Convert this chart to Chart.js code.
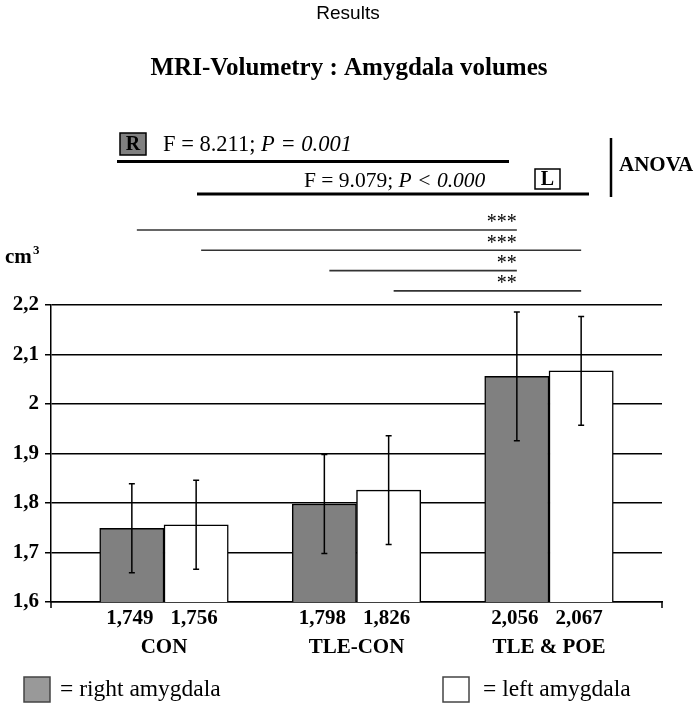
<!DOCTYPE html>
<html>
<head>
<meta charset="utf-8">
<script src="https://cdn.jsdelivr.net/npm/chart.js@4"></script>
<style>
  body { margin: 0; background: #fff; }
</style>
</head>
<body>
<canvas id="chart1" width="696" height="705"></canvas>
<script>
const categories = ['CON', 'TLE-CON', 'TLE & POE'];
const rightVolumes = [1.749, 1.798, 2.056];
const leftVolumes = [1.756, 1.826, 2.067];
const rightSD = [0.09, 0.10, 0.13];
const leftSD = [0.09, 0.11, 0.11];
const yMin = 1.6, yMax = 2.2, yStep = 0.1;
// post-hoc comparisons: [from group, to group, series (0 = right, 1 = left), stars]
const sigPairs = [
  [0, 2, 0, '***'],
  [0, 2, 1, '***'],
  [1, 2, 0, '**'],
  [1, 2, 1, '**']
];

const serif = '"Liberation Serif", "Times New Roman", serif';
const sans = '"Liberation Sans", Arial, sans-serif';

function comma(v, d) {
  return (d === undefined ? String(Math.round(v * 10) / 10) : v.toFixed(d)).replace('.', ',');
}

// draws mixed normal/italic text pieces starting at x
function richText(ctx, parts, x, y, size) {
  parts.forEach(p => {
    ctx.font = (p[1] ? 'italic ' : '') + size + 'px ' + serif;
    ctx.fillText(p[0], x, y);
    x += ctx.measureText(p[0]).width;
  });
}

const extras = {
  id: 'extras',
  afterDatasetsDraw(chart) {
    const ctx = chart.ctx;
    const area = chart.chartArea;
    const xs = chart.scales.x, ys = chart.scales.y;
    ctx.save();
    ctx.fillStyle = '#000';
    ctx.strokeStyle = '#000';

    // error bars + value labels
    [rightSD, leftSD].forEach((sd, di) => {
      const meta = chart.getDatasetMeta(di);
      const vals = di === 0 ? rightVolumes : leftVolumes;
      meta.data.forEach((bar, i) => {
        const top = ys.getPixelForValue(vals[i] + sd[i]);
        const bot = ys.getPixelForValue(vals[i] - sd[i]);
        ctx.lineWidth = 1.5;
        ctx.beginPath();
        ctx.moveTo(bar.x, top); ctx.lineTo(bar.x, bot);
        ctx.moveTo(bar.x - 3, top); ctx.lineTo(bar.x + 3, top);
        ctx.moveTo(bar.x - 3, bot); ctx.lineTo(bar.x + 3, bot);
        ctx.stroke();
        ctx.font = 'bold 21px ' + serif;
        ctx.textAlign = 'center';
        ctx.textBaseline = 'middle';
        ctx.fillText(comma(vals[i], 3), bar.x - 2, area.bottom + 17);
      });
    });

    // category names
    ctx.font = 'bold 21px ' + serif;
    categories.forEach((c, i) => {
      ctx.fillText(c, xs.getPixelForValue(i), area.bottom + 46);
    });

    // little ticks under the x axis ends
    ctx.lineWidth = 1.5;
    ctx.beginPath();
    ctx.moveTo(area.left, area.bottom); ctx.lineTo(area.left, area.bottom + 6);
    ctx.moveTo(area.right, area.bottom); ctx.lineTo(area.right, area.bottom + 6);
    ctx.stroke();

    // significance lines
    const metas = [chart.getDatasetMeta(0), chart.getDatasetMeta(1)];
    const starRight = metas[0].data[2].x;
    sigPairs.forEach((s, k) => {
      const ly = area.top - 75 + k * 20.3;
      const x0 = metas[s[2]].data[s[0]].x + 5;
      const x1 = metas[s[2]].data[s[1]].x;
      ctx.strokeStyle = '#333';
      ctx.lineWidth = 1.6;
      ctx.beginPath();
      ctx.moveTo(x0, ly); ctx.lineTo(x1, ly);
      ctx.stroke();
      ctx.font = '20px ' + serif;
      ctx.textAlign = 'right';
      ctx.fillText(s[3], starRight, ly - 7);
    });

    // ANOVA block
    ctx.strokeStyle = '#000';
    ctx.textAlign = 'left';
    ctx.lineWidth = 1.5;
    ctx.fillStyle = '#808080';
    ctx.fillRect(120, 133, 26, 22);
    ctx.strokeRect(120, 133, 26, 22);
    ctx.strokeRect(535, 169, 25, 20);
    ctx.fillStyle = '#000';
    ctx.font = 'bold 20px ' + serif;
    ctx.textAlign = 'center';
    ctx.fillText('R', 133, 145);
    ctx.fillText('L', 547.5, 180);
    ctx.textAlign = 'left';
    richText(ctx, [['F = 8.211; ', false], ['P = 0.001', true]], 163, 145, 22.5);
    richText(ctx, [['F = 9.079; ', false], ['P < 0.000', true]], 304, 181, 21.5);
    ctx.lineWidth = 3;
    ctx.beginPath();
    ctx.moveTo(117, 161.5); ctx.lineTo(509, 161.5);
    ctx.moveTo(197, 194); ctx.lineTo(589, 194);
    ctx.stroke();
    ctx.lineWidth = 2.5;
    ctx.beginPath();
    ctx.moveTo(611, 138); ctx.lineTo(611, 197);
    ctx.stroke();
    ctx.font = 'bold 21px ' + serif;
    ctx.fillText('ANOVA', 619, 166);

    // unit
    ctx.font = 'bold 21px ' + serif;
    ctx.fillText('cm', 5, 258);
    ctx.font = 'bold 13px ' + serif;
    ctx.fillText('3', 33, 251);

    // titles
    ctx.textAlign = 'center';
    ctx.font = '19px ' + sans;
    ctx.fillText('Results', 348, 14);
    ctx.font = 'bold 25px ' + serif;
    ctx.fillText('MRI-Volumetry : Amygdala volumes', 349, 69);

    // legend
    ctx.textAlign = 'left';
    ctx.lineWidth = 1.5;
    ctx.fillStyle = '#999';
    ctx.fillRect(24, 677, 26, 25);
    ctx.strokeStyle = '#444';
    ctx.strokeRect(24, 677, 26, 25);
    ctx.fillStyle = '#fff';
    ctx.fillRect(443, 677, 26, 25);
    ctx.strokeRect(443, 677, 26, 25);
    ctx.fillStyle = '#000';
    ctx.font = '23.5px ' + serif;
    ctx.fillText('= right amygdala', 60, 690);
    ctx.fillText('= left amygdala', 483, 690);
    ctx.restore();
  }
};

const ctx = document.getElementById('chart1').getContext('2d');
const chart1 = new Chart(ctx, {
  type: 'bar',
  data: {
    datasets: [{
      label: 'right amygdala',
      data: rightVolumes.map((v, i) => ({ x: i, y: v })),
      backgroundColor: '#808080',
      borderColor: '#000',
      borderWidth: 1.5,
      barThickness: 64.3
    }, {
      label: 'left amygdala',
      data: leftVolumes.map((v, i) => ({ x: i, y: v })),
      backgroundColor: '#fff',
      borderColor: '#000',
      borderWidth: 1.5,
      barThickness: 64.3
    }]
  },
  options: {
    responsive: false,
    animation: false,
    devicePixelRatio: 1,
    layout: { padding: { top: 305, right: 34, left: 0, bottom: 0 } },
    plugins: { legend: { display: false }, tooltip: { enabled: false } },
    scales: {
      x: {
        type: 'linear',
        offset: false,
        min: -0.587,
        max: 2.587,
        grid: { display: false },
        ticks: { display: false },
        border: { display: true, color: '#000', width: 1.5 },
        afterFit: s => { s.height = 103; }
      },
      y: {
        min: yMin,
        max: yMax,
        ticks: {
          stepSize: yStep,
          color: '#000',
          padding: 6,
          font: { family: serif, size: 21, weight: 'bold' },
          callback: v => comma(v)
        },
        grid: { color: '#000', lineWidth: 1.5, tickLength: 6 },
        border: { display: true, color: '#000', width: 1.5 },
        afterFit: s => { s.width = 51; }
      }
    }
  },
  plugins: [extras]
});
</script>
</body>
</html>
